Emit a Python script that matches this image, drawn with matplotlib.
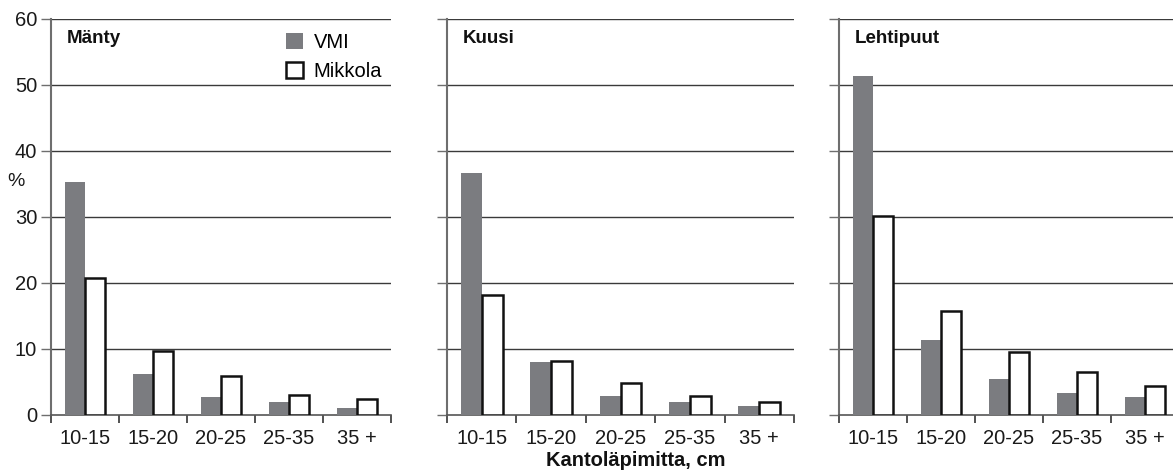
import matplotlib
matplotlib.use("Agg")
import matplotlib.pyplot as plt
import numpy as np
from matplotlib.patches import Patch

plt.rcParams['font.family'] = ['Liberation Sans', 'DejaVu Sans']

categories = ["10-15", "15-20", "20-25", "25-35", "35 +"]
species = ["Mänty", "Kuusi", "Lehtipuut"]
vmi = {
    "Mänty": [35.3, 6.2, 2.8, 1.9, 1.1],
    "Kuusi": [36.7, 8.0, 2.9, 2.0, 1.4],
    "Lehtipuut": [51.4, 11.3, 5.5, 3.3, 2.7],
}
mikkola = {
    "Mänty": [20.7, 9.65, 5.95, 3.1, 2.5],
    "Kuusi": [18.2, 8.2, 4.8, 2.9, 2.0],
    "Lehtipuut": [30.1, 15.8, 9.6, 6.5, 4.4],
}
yticks = [0, 10, 20, 30, 40, 50, 60]

W, H = 1173, 470
fig = plt.figure(figsize=(W / 100, H / 100), dpi=100)

# axes rectangles in pixels: (left, width)
rects = [(51, 340), (447, 347), (839, 340)]
bottom_px, top_px = 415, 19

gray = "#7b7c80"
grid_c = "#3a3a3a"
spine_c = "#6e6e6e"
bw = 0.30

axes = []
for i, (sp, (lx, wpx)) in enumerate(zip(species, rects)):
    ax = fig.add_axes([lx / W, (H - bottom_px) / H, wpx / W, (bottom_px - top_px) / H])
    ax.set_xlim(0, 5)
    ax.set_ylim(0, 60)
    x = np.arange(len(categories)) + 0.5
    ax.bar(x - bw / 2, vmi[sp], width=bw, color=gray, edgecolor="none", zorder=3, label="VMI")
    ax.bar(x + bw / 2, mikkola[sp], width=bw, color="white", edgecolor="#111111",
           linewidth=1.8, zorder=3, label="Mikkola")
    ax.set_yticks(yticks)
    for yv in yticks[1:]:
        ax.axhline(yv, color=grid_c, linewidth=1.0, zorder=1)
    ax.set_xticks(np.arange(0, 6))
    ax.set_xticklabels([])
    ax.set_xticks(x, minor=True)
    ax.set_xticklabels(categories, minor=True, fontsize=14.5, color="#1a1a1a")
    ax.tick_params(axis="x", which="major", direction="out", length=6, width=1.2, color="#333333")
    ax.tick_params(axis="x", which="minor", length=0, pad=10)
    ax.tick_params(axis="y", direction="out", length=7, width=1.0, color=spine_c)
    if i == 0:
        ax.set_yticklabels([str(v) for v in yticks], fontsize=14.5, color="#1a1a1a")
        ax.tick_params(axis="y", pad=3)
    else:
        ax.set_yticklabels([])
    for s in ["top", "right"]:
        ax.spines[s].set_visible(False)
    ax.spines["left"].set_color(spine_c)
    ax.spines["left"].set_linewidth(1.5)
    ax.spines["bottom"].set_color("#555555")
    ax.spines["bottom"].set_linewidth(1.2)
    ax.text(16 / wpx, 0.952, sp, transform=ax.transAxes, fontsize=13.5, fontweight="bold",
            va="center", ha="left", color="#111111")
    axes.append(ax)

handles = [Patch(facecolor=gray, edgecolor="none"),
           Patch(facecolor="white", edgecolor="#111111", linewidth=1.8)]
leg = axes[0].legend(handles, ["VMI", "Mikkola"], loc="upper right",
                     bbox_to_anchor=(1.01, 0.995), frameon=False, fontsize=14.5,
                     handlelength=0.85, handleheight=0.85, handletextpad=0.55,
                     labelspacing=0.5, borderaxespad=0.2)

fig.text(16 / W, 1 - 181 / H, "%", fontsize=14, ha="center", va="center", color="#1a1a1a")
fig.text(636 / W, 1 - 460 / H, "Kantoläpimitta, cm", fontsize=14.5, fontweight="bold",
         ha="center", va="center", color="#111111")

fig.savefig("out.png", dpi=100)
